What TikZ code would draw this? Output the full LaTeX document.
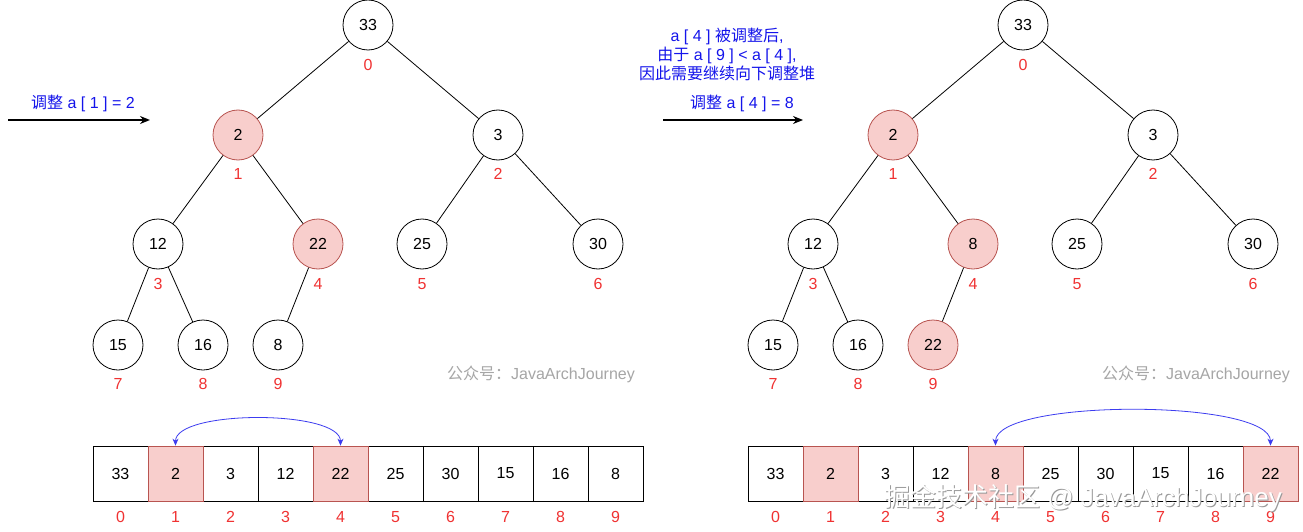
\documentclass[tikz,border=0pt]{standalone}
\usepackage{fontspec}
\setmainfont{Liberation Sans}
\newfontfamily\cjk{Noto Sans CJK SC}
\usetikzlibrary{arrows.meta}
\definecolor{pinkf}{HTML}{F8CECC}
\definecolor{pinkd}{HTML}{B85450}
\definecolor{idxred}{RGB}{240,50,50}
\definecolor{tblue}{RGB}{20,20,235}
\definecolor{arcblue}{RGB}{60,60,240}
\begin{document}
\begin{tikzpicture}[x=1pt,y=-1pt,
  hnode/.style={circle,draw=black,fill=white,minimum size=50pt,inner sep=0pt,line width=0.8pt,font=\fontsize{16}{18}\selectfont},
  hl/.style={fill=pinkf,draw=pinkd},
  idx/.style={text=idxred,inner sep=0pt,font=\fontsize{16}{18}\selectfont},
  cell/.style={draw=black,fill=white,minimum width=55pt,minimum height=55pt,inner sep=0pt,line width=0.8pt,font=\fontsize{16}{18}\selectfont},
  edge/.style={draw=black,line width=0.8pt},
  blabel/.style={text=tblue,inner sep=0pt,align=center,font=\fontsize{16}{19}\selectfont},
  mainarrow/.style={draw=black,line width=1.5pt,-{Stealth[length=10pt,width=8pt]}},
  swaparc/.style={draw=arcblue,line width=0.8pt,{Stealth[length=7pt,width=6pt]}-{Stealth[length=7pt,width=6pt]}},
  wm/.style={text=gray!70,inner sep=0pt,font=\fontsize{16}{18}\selectfont}
]
\useasboundingbox (0,0) rectangle (1303,532);
\fill[white] (0,0) rectangle (1303,532);

% ---------- left tree ----------
\node[hnode] (a0) at (368,25) {33};
\node[hnode,hl] (a1) at (238,135) {2};
\node[hnode] (a2) at (498,135) {3};
\node[hnode] (a3) at (158,244) {12};
\node[hnode,hl] (a4) at (318,244) {22};
\node[hnode] (a5) at (422,244) {25};
\node[hnode] (a6) at (598,244) {30};
\node[hnode] (a7) at (118,345) {15};
\node[hnode] (a8) at (203,345) {16};
\node[hnode] (a9) at (278,345) {8};
\draw[edge] (a0) -- (a1); \draw[edge] (a0) -- (a2);
\draw[edge] (a1) -- (a3); \draw[edge] (a1) -- (a4);
\draw[edge] (a2) -- (a5); \draw[edge] (a2) -- (a6);
\draw[edge] (a3) -- (a7); \draw[edge] (a3) -- (a8);
\draw[edge] (a4) -- (a9);
\node[idx] (ai0) at (368,65) {0};
\node[idx] (ai1) at (238,174) {1};
\node[idx] (ai2) at (498,174) {2};
\node[idx] (ai3) at (158,284) {3};
\node[idx] (ai4) at (318,284) {4};
\node[idx] (ai5) at (422,284) {5};
\node[idx] (ai6) at (598,284) {6};
\node[idx] (ai7) at (118,384) {7};
\node[idx] (ai8) at (203,384) {8};
\node[idx] (ai9) at (278,384) {9};

% ---------- right tree ----------
\node[hnode] (b0) at (1023,25) {33};
\node[hnode,hl] (b1) at (893,135) {2};
\node[hnode] (b2) at (1153,135) {3};
\node[hnode] (b3) at (813,244) {12};
\node[hnode,hl] (b4) at (973,244) {8};
\node[hnode] (b5) at (1077,244) {25};
\node[hnode] (b6) at (1253,244) {30};
\node[hnode] (b7) at (773,345) {15};
\node[hnode] (b8) at (858,345) {16};
\node[hnode,hl] (b9) at (933,345) {22};
\draw[edge] (b0) -- (b1); \draw[edge] (b0) -- (b2);
\draw[edge] (b1) -- (b3); \draw[edge] (b1) -- (b4);
\draw[edge] (b2) -- (b5); \draw[edge] (b2) -- (b6);
\draw[edge] (b3) -- (b7); \draw[edge] (b3) -- (b8);
\draw[edge] (b4) -- (b9);
\node[idx] (bi0) at (1023,65) {0};
\node[idx] (bi1) at (893,174) {1};
\node[idx] (bi2) at (1153,174) {2};
\node[idx] (bi3) at (813,284) {3};
\node[idx] (bi4) at (973,284) {4};
\node[idx] (bi5) at (1077,284) {5};
\node[idx] (bi6) at (1253,284) {6};
\node[idx] (bi7) at (773,384) {7};
\node[idx] (bi8) at (858,384) {8};
\node[idx] (bi9) at (933,384) {9};

% ---------- arrays ----------
\foreach \v [count=\i from 0] in {33,2,3,12,22,25,30,15,16,8} {
  \node[cell] (c\i) at (120.5+55*\i,473.5) {\v};
  \node[idx] (ci\i) at (120.5+55*\i,517) {\i};
}
\node[cell,hl] (c1x) at (c1) {2};
\node[cell,hl] (c4x) at (c4) {22};
\foreach \v [count=\i from 0] in {33,2,3,12,8,25,30,15,16,22} {
  \node[cell] (d\i) at (775.5+55*\i,473.5) {\v};
  \node[idx] (di\i) at (775.5+55*\i,517) {\i};
}
\node[cell,hl] (d1x) at (d1) {2};
\node[cell,hl] (d4x) at (d4) {8};
\node[cell,hl] (d9x) at (d9) {22};

\draw[swaparc] (c1x.north) .. controls ([yshift=36pt]c1x.north) and ([yshift=36pt]c4x.north) .. (c4x.north);
\draw[swaparc] (d4x.north) .. controls ([yshift=47pt]d4x.north) and ([yshift=47pt]d9x.north) .. (d9x.north);

% ---------- step arrows and labels ----------
\coordinate (s1) at (8,120); \coordinate (e1) at (150,120);
\draw[mainarrow] (s1) -- (e1);
\node[blabel] (l1) at (83,103) {{\cjk 调整} a [ 1 ] = 2};
\coordinate (s2) at (663,120); \coordinate (e2) at (803,120);
\draw[mainarrow] (s2) -- (e2);
\node[blabel] (l2) at (742,103) {{\cjk 调整} a [ 4 ] = 8};
\node[blabel] (l3) at (727,54) {a [ 4 ] {\cjk 被调整后},\\{\cjk 由于} a [ 9 ] < a [ 4 ],\\{\cjk 因此需要继续向下调整堆}};

% ---------- watermarks ----------
\node[wm] (w1) at (541,374) {{\cjk 公众号：}JavaArchJourney};
\node[wm] (w2) at (1196,374) {{\cjk 公众号：}JavaArchJourney};
\node[text=gray!80,inner sep=0pt,font=\fontsize{26}{28}\selectfont] (w3s) at (1084,499) {{\cjk 掘金技术社区} @ JavaArchJourney};
\node[text=white,inner sep=0pt,font=\fontsize{26}{28}\selectfont] (w3) at (1083,498) {{\cjk 掘金技术社区} @ JavaArchJourney};
\end{tikzpicture}
\end{document}
